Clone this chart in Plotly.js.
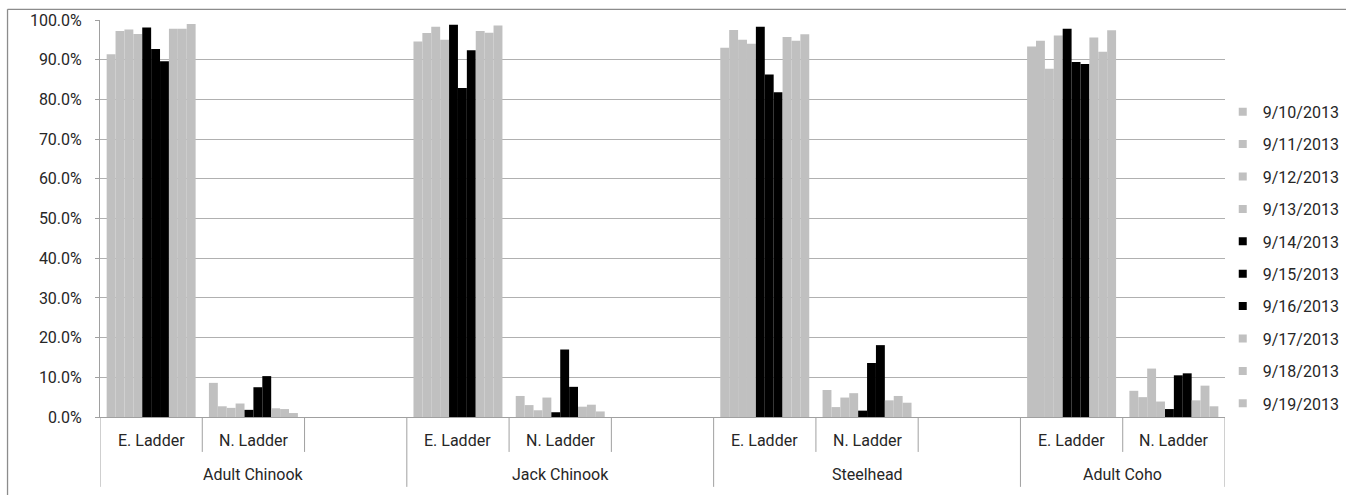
<!DOCTYPE html>
<html>
<head>
<meta charset="utf-8">
<script src="https://cdn.plot.ly/plotly-3.0.1.min.js"></script>
<style>
  html, body { margin: 0; padding: 0; background: #ffffff; }
  #chart { width: 1346px; height: 495px; }
</style>
</head>
<body>
<div id="chart"></div>
<script>
// ---- data ----
const dates = ['9/10/2013', '9/11/2013', '9/12/2013', '9/13/2013', '9/14/2013',
               '9/15/2013', '9/16/2013', '9/17/2013', '9/18/2013', '9/19/2013'];
const groups = ['Adult Chinook', 'Jack Chinook', 'Steelhead', 'Adult Coho'];
const ladders = ['E. Ladder', 'N. Ladder'];
const groupHasBlankSlot = [true, true, true, false];

// value order: [AdultChinook E, AdultChinook N, Jack E, Jack N, Steelhead E, Steelhead N, Coho E, Coho N]
const v0910 = [0.914, 0.086, 0.946, 0.053, 0.930, 0.068, 0.933, 0.066];
const v0911 = [0.972, 0.027, 0.967, 0.030, 0.975, 0.025, 0.948, 0.050];
const v0912 = [0.976, 0.023, 0.983, 0.017, 0.950, 0.049, 0.877, 0.122];
const v0913 = [0.965, 0.034, 0.950, 0.049, 0.940, 0.060, 0.961, 0.039];
const v0914 = [0.981, 0.018, 0.988, 0.012, 0.983, 0.016, 0.978, 0.020];
const v0915 = [0.927, 0.075, 0.829, 0.170, 0.863, 0.136, 0.894, 0.105];
const v0916 = [0.896, 0.103, 0.924, 0.076, 0.818, 0.181, 0.889, 0.110];
const v0917 = [0.978, 0.022, 0.972, 0.026, 0.957, 0.042, 0.956, 0.042];
const v0918 = [0.978, 0.020, 0.968, 0.031, 0.948, 0.053, 0.920, 0.079];
const v0919 = [0.990, 0.010, 0.986, 0.014, 0.964, 0.036, 0.974, 0.027];
const seriesValues = [v0910, v0911, v0912, v0913, v0914, v0915, v0916, v0917, v0918, v0919];

// ---- styles ----
const GREY = '#c0c0c0', BLACK = '#000000';
const seriesColors = [GREY, GREY, GREY, GREY, BLACK, BLACK, BLACK, GREY, GREY, GREY];
const FONT = 'Roboto, "Liberation Sans", Arial, sans-serif';
const TEXT = '#262626';
const LINE = '#a0a0a0';

// ---- build category slots ----
const slots = [];   // {key, group, ladder, valueIndex}
groups.forEach((g, gi) => {
  ladders.forEach((l, li) => {
    slots.push({ key: g + ' | ' + l, group: gi, ladder: l, valueIndex: gi * 2 + li });
  });
  if (groupHasBlankSlot[gi]) slots.push({ key: g + ' | blank', group: gi, ladder: '', valueIndex: -1 });
});
const slotKeys = slots.map(s => s.key);

const traces = [];
seriesValues.forEach((vals, si) => {
  traces.push({
    type: 'bar',
    name: dates[si],
    x: slotKeys,
    y: slots.map(s => (s.valueIndex >= 0 ? vals[s.valueIndex] : null)),
    marker: { color: seriesColors[si], line: { width: 0 } },
    showlegend: false,
    hoverinfo: 'skip'
  });
});
// legend entries (small square keys)
seriesValues.forEach((vals, si) => {
  traces.push({
    type: 'scatter',
    mode: 'markers',
    name: dates[si],
    legendgroup: 'g' + si,
    x: [null], y: [null],
    marker: { symbol: 'square', size: 8, color: seriesColors[si] },
    showlegend: true,
    hoverinfo: 'skip'
  });
});

// ---- category axis lines & labels ----
const shapes = [];
const annotations = [];
const SHORT_Y = -0.088, LONG_Y = -0.176;
slots.forEach((s, i) => {
  const isGroupStart = (i === 0) || (slots[i - 1].group !== s.group);
  shapes.push({ type: 'line', xref: 'x', yref: 'paper', x0: i - 0.5, x1: i - 0.5,
                y0: 0, y1: isGroupStart ? LONG_Y : SHORT_Y, line: { color: LINE, width: 1 } });
  if (s.ladder) {
    annotations.push({ xref: 'x', yref: 'paper', x: i, y: -0.058, text: s.ladder,
                       showarrow: false, yanchor: 'middle', xanchor: 'center',
                       font: { family: FONT, size: 16, color: TEXT } });
  }
});
shapes.push({ type: 'line', xref: 'x', yref: 'paper', x0: slots.length - 0.5, x1: slots.length - 0.5,
              y0: 0, y1: LONG_Y, line: { color: LINE, width: 1 } });
groups.forEach((g, gi) => {
  const idx = slots.map((s, i) => (s.group === gi ? i : null)).filter(v => v !== null);
  const center = (idx[0] + idx[idx.length - 1]) / 2;
  annotations.push({ xref: 'x', yref: 'paper', x: center, y: -0.1436, text: g,
                     showarrow: false, yanchor: 'middle', xanchor: 'center',
                     font: { family: FONT, size: 16, color: TEXT } });
});
// chart-area frame (top and left edges visible)
shapes.push({ type: 'line', xref: 'paper', yref: 'paper', x0: -0.0822, x1: 1.2, y0: 1.027, y1: 1.027,
              line: { color: '#8c8c8c', width: 1.3 } });
shapes.push({ type: 'line', xref: 'paper', yref: 'paper', x0: -0.0822, x1: -0.0822, y0: 1.027, y1: -0.3,
              line: { color: '#8c8c8c', width: 1.3 } });

const layout = {
  width: 1346, height: 495,
  margin: { l: 100, r: 121, t: 20, b: 78, autoexpand: false },
  paper_bgcolor: '#ffffff', plot_bgcolor: '#ffffff',
  barmode: 'group', bargap: 0.13, bargroupgap: 0,
  font: { family: FONT, size: 16, color: TEXT },
  xaxis: {
    type: 'category', categoryorder: 'array', categoryarray: slotKeys,
    range: [-0.5, slots.length - 0.5], showticklabels: false, ticks: '',
    showgrid: false, showline: true, linecolor: LINE, linewidth: 1, zeroline: false, fixedrange: true
  },
  yaxis: {
    range: [0, 1], dtick: 0.1, tick0: 0, tickformat: '.1%',
    showgrid: true, gridcolor: '#b0b0b0', gridwidth: 1,
    showline: true, linecolor: LINE, linewidth: 1, zeroline: false,
    ticks: 'outside', ticklen: 4, tickcolor: LINE, ticklabelstandoff: 10,
    tickfont: { family: FONT, size: 16, color: TEXT }, fixedrange: true
  },
  legend: {
    x: 0.998, xanchor: 'left', y: 0.401, yanchor: 'middle',
    bgcolor: 'rgba(0,0,0,0)', borderwidth: 0, tracegroupgap: 8.6,
    font: { family: FONT, size: 16, color: TEXT }, itemwidth: 30
  },
  shapes: shapes,
  annotations: annotations
};

Plotly.newPlot('chart', traces, layout, { staticPlot: true, displayModeBar: false });
</script>
</body>
</html>
